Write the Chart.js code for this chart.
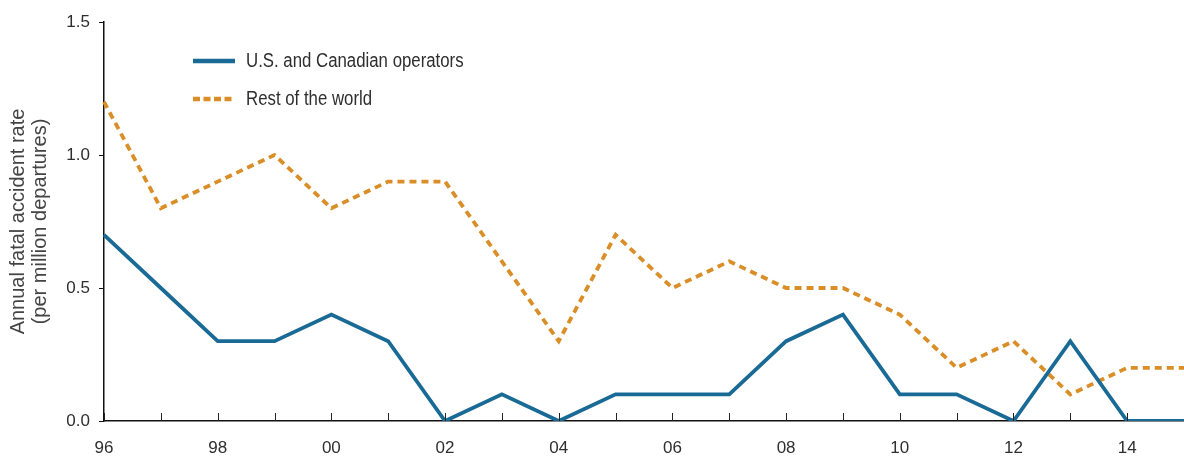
<!DOCTYPE html>
<html>
<head>
<meta charset="utf-8">
<script src="https://cdn.jsdelivr.net/npm/chart.js@4.4.1/dist/chart.umd.min.js"></script>
<style>
  html, body { margin: 0; padding: 0; background: #ffffff; }
  #wrap { position: relative; width: 1184px; height: 457px; }
</style>
</head>
<body>
<div id="wrap"><canvas id="c" width="1184" height="457"></canvas></div>
<script>
// ---- data ----
const years = ['1996','1997','1998','1999','2000','2001','2002','2003','2004','2005',
               '2006','2007','2008','2009','2010','2011','2012','2013','2014','2015'];
const usCanada = [0.7, 0.5, 0.3, 0.3, 0.4, 0.3, 0.0, 0.1, 0.0, 0.1,
                  0.1, 0.1, 0.3, 0.4, 0.1, 0.1, 0.0, 0.3, 0.0, 0.0];
const restOfWorld = [1.2, 0.8, 0.9, 1.0, 0.8, 0.9, 0.9, 0.6, 0.3, 0.7,
                     0.5, 0.6, 0.5, 0.5, 0.4, 0.2, 0.3, 0.1, 0.2, 0.2];
const yTicks = [0.0, 0.5, 1.0, 1.5];
const seriesNames = ['U.S. and Canadian operators', 'Rest of the world'];
const yTitle = ['Annual fatal accident rate', '(per million departures)'];

const REG = "'Liberation Sans', Arial, sans-serif";
const TEXT = '#2e2e2e';

// inner tick marks on the x axis (pointing up into the plot)
const innerXTicks = {
  id: 'innerXTicks',
  afterDatasetsDraw(chart) {
    const s = chart.scales.x, ctx = chart.ctx;
    const yb = chart.chartArea.bottom;
    ctx.save();
    ctx.strokeStyle = '#222';
    ctx.lineWidth = 1;
    s.ticks.forEach((t, i) => {
      const x = Math.round(s.getPixelForTick(i)) + 0.5;
      ctx.beginPath();
      ctx.moveTo(x, yb);
      ctx.lineTo(x, yb - 8);
      ctx.stroke();
    });
    ctx.restore();
  }
};

// legend drawn inside the plot area (condensed text like the original)
const insideLegend = {
  id: 'insideLegend',
  afterDraw(chart, args, opts) {
    const ctx = chart.ctx;
    const x0 = chart.chartArea.left + opts.offsetX;
    ctx.save();
    chart.data.datasets.forEach((ds, i) => {
      const y = chart.chartArea.top + opts.offsetY + i * opts.rowGap;
      ctx.strokeStyle = ds.borderColor;
      ctx.lineWidth = opts.lineWidth;
      ctx.setLineDash(ds.borderDash && ds.borderDash.length ? opts.dash : []);
      ctx.lineCap = 'butt';
      ctx.beginPath();
      ctx.moveTo(x0, y);
      ctx.lineTo(x0 + opts.sampleLen, y);
      ctx.stroke();
      ctx.setLineDash([]);
      ctx.save();
      ctx.translate(x0 + opts.sampleLen + opts.gap, y);
      ctx.scale(opts.condense, 1);
      ctx.fillStyle = TEXT;
      ctx.font = opts.font;
      ctx.textBaseline = 'middle';
      ctx.textAlign = 'left';
      ctx.fillText(ds.label, 0, 0);
      ctx.restore();
    });
    ctx.restore();
  }
};

new Chart(document.getElementById('c'), {
  type: 'line',
  data: {
    labels: years,
    datasets: [
      {
        label: seriesNames[0],
        data: usCanada,
        borderColor: '#1a6a96',
        borderWidth: 3.8,
        pointRadius: 0,
        tension: 0,
        fill: false
      },
      {
        label: seriesNames[1],
        data: restOfWorld,
        borderColor: '#d98e28',
        borderWidth: 3.8,
        borderDash: [7, 5],
        pointRadius: 0,
        tension: 0,
        fill: false
      }
    ]
  },
  options: {
    responsive: false,
    animation: false,
    events: [],
    layout: { padding: { top: 22, right: 0, bottom: 0, left: 0 } },
    plugins: {
      legend: { display: false },
      tooltip: { enabled: false },
      insideLegend: {
        offsetX: 89, offsetY: 39, rowGap: 38, sampleLen: 42, gap: 11,
        lineWidth: 4.5, dash: [7, 3.5], condense: 0.84,
        font: "20px " + REG
      }
    },
    scales: {
      x: {
        type: 'category',
        offset: false,
        grid: { display: false, drawTicks: false },
        border: { display: true, color: '#111', width: 1.5 },
        ticks: {
          autoSkip: false,
          maxRotation: 0,
          padding: 17,
          color: TEXT,
          font: { family: REG, size: 17 },
          callback: function(v) {
            const yr = parseInt(this.getLabelForValue(v), 10);
            return yr % 2 === 0 ? String(yr).slice(2) : '';
          }
        },
        afterFit: (s) => { s.height = 36; s.paddingRight = 0; s.paddingLeft = 0; }
      },
      y: {
        min: 0, max: 1.5,
        afterBuildTicks: (s) => { s.ticks = yTicks.map(v => ({ value: v })); },
        grid: { drawOnChartArea: false, drawTicks: true, tickLength: 5, color: '#111', lineWidth: 1 },
        border: { display: true, color: '#111', width: 1.5 },
        ticks: {
          padding: 9,
          color: TEXT,
          font: { family: REG, size: 17 },
          callback: (v) => Number(v).toFixed(1)
        },
        title: {
          display: true,
          text: yTitle,
          color: '#444',
          font: { family: REG, size: 20, lineHeight: 1.1 },
          padding: { top: 7, bottom: 0 }
        },
        afterFit: (s) => { s.width = 104; }
      }
    }
  },
  plugins: [innerXTicks, insideLegend]
});
</script>
</body>
</html>
